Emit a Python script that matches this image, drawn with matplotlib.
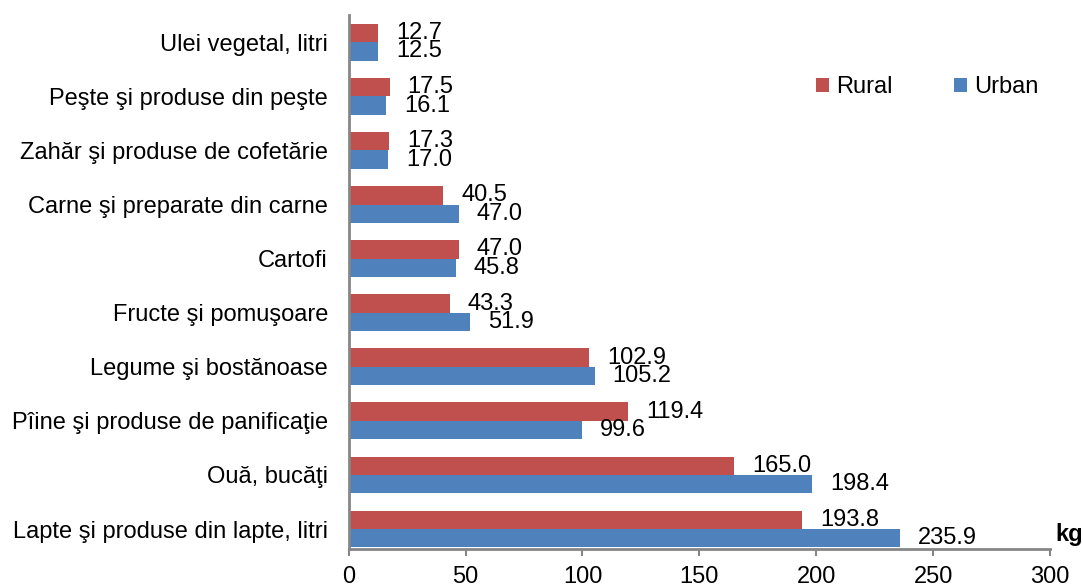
import matplotlib
matplotlib.use('Agg')
import matplotlib.pyplot as plt
import numpy as np

plt.rcParams['font.family'] = ['Liberation Sans', 'DejaVu Sans']

categories = [
    'Lapte şi produse din lapte, litri',
    'Ouă, bucăţi',
    'Pîine şi produse de panificaţie',
    'Legume şi bostănoase',
    'Fructe şi pomuşoare',
    'Cartofi',
    'Carne şi preparate din carne',
    'Zahăr şi produse de cofetărie',
    'Peşte şi produse din peşte',
    'Ulei vegetal, litri',
]
rural = [193.8, 165.0, 119.4, 102.9, 43.3, 47.0, 40.5, 17.3, 17.5, 12.7]
urban = [235.9, 198.4, 99.6, 105.2, 51.9, 45.8, 47.0, 17.0, 16.1, 12.5]
x_ticks = [0, 50, 100, 150, 200, 250, 300]

RED = '#C0504D'
BLUE = '#4F81BD'
GRAY = '#868686'
FS = 17

fig = plt.figure(figsize=(10.83, 5.87), dpi=100)
ax = fig.add_axes([0.322, 0.0647, 0.6475, 0.9093])

y = np.arange(len(categories))
h = 0.34
ax.barh(y + h / 2, rural, height=h, color=RED, label='Rural')
ax.barh(y - h / 2, urban, height=h, color=BLUE, label='Urban')

for yi, v in zip(y, rural):
    ax.annotate(f'{v:.1f}', (v, yi + h / 2), xytext=(13, 0), textcoords='offset points',
                ha='left', va='center', fontsize=FS)
for yi, v in zip(y, urban):
    ax.annotate(f'{v:.1f}', (v, yi - h / 2), xytext=(13, 0), textcoords='offset points',
                ha='left', va='center', fontsize=FS)

ax.set_xlim(0, 300)
ax.set_ylim(-0.37, 9.5)
ax.set_xticks(x_ticks)
ax.set_xticklabels([str(t) for t in x_ticks], fontsize=FS)
ax.set_yticks(y)
ax.set_yticklabels(categories, fontsize=FS)
ax.tick_params(axis='y', length=0, pad=15)
ax.tick_params(axis='x', direction='out', length=5, color=GRAY, width=1.5, pad=7)

for s in ['top', 'right']:
    ax.spines[s].set_visible(False)
for s in ['left', 'bottom']:
    ax.spines[s].set_color(GRAY)
    ax.spines[s].set_linewidth(2)

ax.legend(loc='center left', bbox_to_anchor=(816 / 1083, 1 - 87 / 587),
          bbox_transform=fig.transFigure, ncol=2, frameon=False, fontsize=FS,
          handlelength=0.55, handleheight=0.55, columnspacing=2.6,
          handletextpad=0.3, borderpad=0, borderaxespad=0)

fig.text(1055 / 1083, 1 - 535 / 587, 'kg', fontsize=FS, fontweight='bold', ha='left', va='center')

fig.savefig('out.png', dpi=100)
